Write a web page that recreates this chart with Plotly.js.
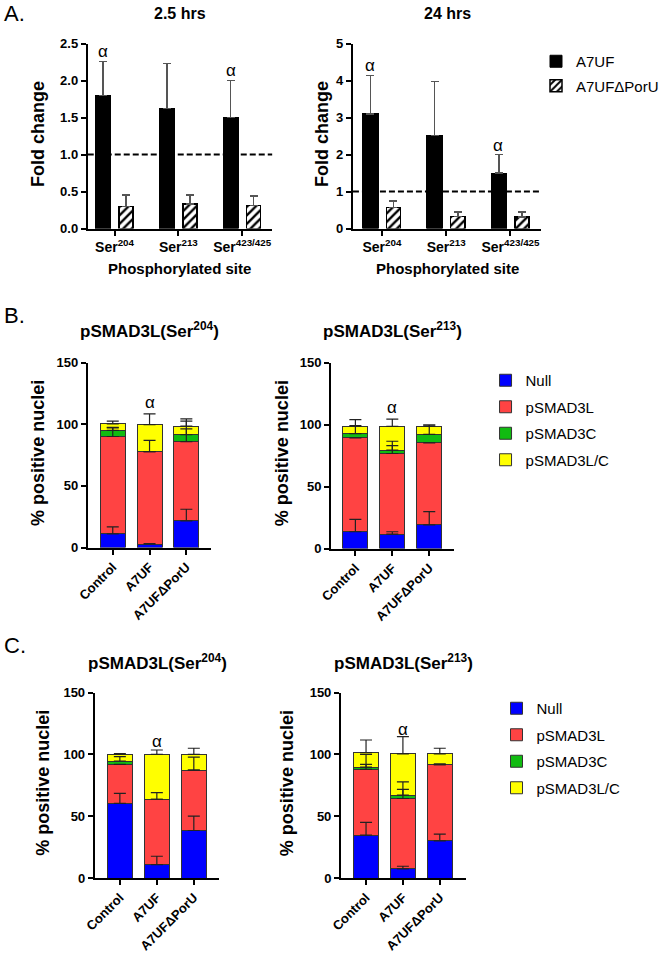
<!DOCTYPE html>
<html><head><meta charset="utf-8">
<script src="https://cdn.plot.ly/plotly-3.0.1.min.js"></script>
<style>html,body{margin:0;padding:0;background:#fff}#chart{width:664px;height:956px}</style>
</head><body><div id="chart"></div>
<script>
// ---------- Panel A data ----------
const siteCats = ['Ser204', 'Ser213', 'Ser423/425'];
const siteLabels = ['Ser<sup>204</sup>', 'Ser<sup>213</sup>', 'Ser<sup>423/425</sup>'];
const a25_A7UF = [1.80, 1.62, 1.50];
const a25_A7UF_err = [0.46, 0.61, 0.50];
const a25_dPorU = [0.30, 0.33, 0.31];
const a25_dPorU_err = [0.15, 0.12, 0.13];
const a24_A7UF = [3.10, 2.52, 1.50];
const a24_A7UF_err = [1.03, 1.45, 0.50];
const a24_dPorU = [0.57, 0.32, 0.31];
const a24_dPorU_err = [0.17, 0.13, 0.13];
const a25_alphaCats = ['Ser204', 'Ser423/425'];
const a25_alphaY = [2.39, 2.13];
const a24_alphaCats = ['Ser204', 'Ser423/425'];
const a24_alphaY = [4.41, 2.23];
const refLine = 1.0;

// ---------- Panels B / C data ----------
const groups = ['Control', 'A7UF', 'A7UFΔPorU'];
const states = ['Null', 'pSMAD3L', 'pSMAD3C', 'pSMAD3L/C'];
const stateColors = ['#0000FF', '#FF4343', '#11BB11', '#FFFF00'];

// B, Ser204
const b204_null = [11, 2.7, 21.6],  b204_null_err = [5.8, 0.5, 9.4];
const b204_L    = [79, 75.1, 64.3], b204_L_err    = [7, 9, 10.3];
const b204_C    = [4.9, 0, 5.5],    b204_C_err    = [2.5, null, 11];
const b204_LC   = [5.4, 21.9, 7],   b204_LC_err   = [2.1, 8.7, 5.9];
// B, Ser213
const b213_null = [13.5, 11.6, 19], b213_null_err = [10, 1.9, 10.7];
const b213_L    = [75.7, 65, 66.2], b213_L_err    = [null, 6.4, null];
const b213_C    = [3.5, 2.7, 6.8],  b213_C_err    = [6.5, 7.2, 7.6];
const b213_LC   = [5.9, 19.3, 6.6], b213_LC_err   = [5.4, 5.7, 1];
// C, Ser204
const c204_null = [60.3, 10.8, 38.4], c204_null_err = [8.1, 6.8, 11.6];
const c204_L    = [31.6, 52.7, 48.9], c204_L_err    = [null, 5.5, 10.5];
const c204_C    = [2.7, 0, 0],        c204_C_err    = [3.5, null, null];
const c204_LC   = [5.4, 36.5, 12.7],  c204_LC_err   = [0.5, 3.5, 4.9];
// C, Ser213
const c213_null = [34.6, 7.3, 30],    c213_null_err = [10.3, 2.2, 5.4];
const c213_L    = [53.2, 57, 61.6],   c213_L_err    = [12.2, 7.3, 0.8];
const c213_C    = [1.9, 2.7, 0],      c213_C_err    = [2.2, 10.8, null];
const c213_LC   = [11.7, 33.3, 8.7],  c213_LC_err   = [10.2, 14, 4.6];

const alphaGroup = 'A7UF';
const b204_alphaY = 117.8, b213_alphaY = 113.5, c204_alphaY = 110, c213_alphaY = 120.3;

// ---------- helpers ----------
const W = 664, H = 956;
const F = 'Liberation Sans, Arial, Helvetica, sans-serif';
const px = p => p / W;
const py = p => 1 - p / H;

function errUp(arr, color, thick, w) {
  return {type: 'data', symmetric: false, array: arr, arrayminus: arr.map(() => 0),
          color: color, thickness: thick, width: w, visible: true};
}

const traces = [];
const errTraces = [];
function panelA(xa, ya, blk, blkErr, hat, hatErr, showLeg) {
  traces.push({type: 'bar', name: 'A7UF', x: siteCats, y: blk, xaxis: xa, yaxis: ya,
    offsetgroup: 'a', width: 0.24, offset: -0.30,
    marker: {color: 'black', line: {color: 'black', width: 1}},
    error_y: errUp(blkErr, '#555', 1.5, 4),
    legend: 'legend', legendgroup: 'A7UF', showlegend: showLeg, hoverinfo: 'y'});
  traces.push({type: 'bar', name: 'A7UFΔPorU', x: siteCats, y: hat, xaxis: xa, yaxis: ya,
    offsetgroup: 'b', width: 0.22, offset: 0.07,
    marker: {color: 'white', line: {color: 'black', width: 1.5},
             pattern: {shape: '/', fgcolor: 'black', bgcolor: 'white', size: 6, solidity: 0.4}},
    error_y: errUp(hatErr, '#555', 1.5, 4),
    legend: 'legend', legendgroup: 'dPorU', showlegend: showLeg, hoverinfo: 'y'});
}
panelA('x', 'y', a25_A7UF, a25_A7UF_err, a25_dPorU, a25_dPorU_err, true);
panelA('x2', 'y2', a24_A7UF, a24_A7UF_err, a24_dPorU, a24_dPorU_err, false);

function panelStack(xa, ya, vals, errs, legName, showLeg) {
  const run = groups.map(() => 0);
  vals.forEach((v, i) => {
    traces.push({type: 'bar', name: states[i], x: groups, y: v, xaxis: xa, yaxis: ya,
      marker: {color: stateColors[i], line: {color: '#333', width: 1}},
      legend: legName, legendgroup: legName + states[i], showlegend: showLeg, hoverinfo: 'y'});
    // error bars drawn on top of the whole stack, at each segment's top
    v.forEach((val, j) => { run[j] += val; });
    errTraces.push({type: 'scatter', mode: 'markers', x: groups, y: run.slice(), xaxis: xa, yaxis: ya,
      marker: {size: 1, opacity: 0}, error_y: errUp(errs[i], '#222', 1.2, 6),
      showlegend: false, hoverinfo: 'skip'});
  });
}
panelStack('x3', 'y3', [b204_null, b204_L, b204_C, b204_LC], [b204_null_err, b204_L_err, b204_C_err, b204_LC_err], 'legend2', true);
panelStack('x4', 'y4', [b213_null, b213_L, b213_C, b213_LC], [b213_null_err, b213_L_err, b213_C_err, b213_LC_err], 'legend2', false);
panelStack('x5', 'y5', [c204_null, c204_L, c204_C, c204_LC], [c204_null_err, c204_L_err, c204_C_err, c204_LC_err], 'legend3', true);
panelStack('x6', 'y6', [c213_null, c213_L, c213_C, c213_LC], [c213_null_err, c213_L_err, c213_C_err, c213_LC_err], 'legend3', false);
errTraces.forEach(t => traces.push(t));

// ---------- axes ----------
const axBase = {showline: true, linecolor: 'black', linewidth: 2, ticks: 'outside', ticklen: 5,
  tickwidth: 2, tickcolor: 'black', showgrid: false, zeroline: false, fixedrange: true,
  tickfont: {family: F, size: 13, color: 'black', weight: 'bold'}};

function xAx(d0, d1, range, anchor, extra) {
  return Object.assign({}, axBase, {type: 'category', domain: [px(d0), px(d1)], range: range, anchor: anchor}, extra || {});
}
function yAx(top, bot, range, anchor, extra) {
  return Object.assign({}, axBase, {domain: [py(bot), py(top)], range: range, anchor: anchor}, extra || {});
}
const siteTicks = {tickmode: 'array', tickvals: siteCats, ticktext: siteLabels, tickangle: 0,
  tickfont: {family: F, size: 14, color: 'black', weight: 'bold'}};
const grpTicks = {tickangle: -45, tickfont: {family: F, size: 13, color: 'black', weight: 'bold'}};

const layout = {
  width: W, height: H, margin: {l: 0, r: 0, t: 0, b: 0},
  paper_bgcolor: 'white', plot_bgcolor: 'white',
  barmode: 'stack', bargap: 0.32,
  font: {family: F, color: 'black'},
  xaxis:  xAx(88, 273, [-0.42, 2.47], 'y', siteTicks),
  yaxis:  yAx(43.5, 228.5, [0, 2.5], 'x', {dtick: 0.5, tickformat: '.1f'}),
  xaxis2: xAx(354, 543, [-0.45, 2.48], 'y2', siteTicks),
  yaxis2: yAx(43.5, 228.5, [0, 5], 'x2', {dtick: 1}),
  xaxis3: xAx(88, 212, [-0.68, 2.68], 'y3', grpTicks),
  yaxis3: yAx(362.5, 547.5, [0, 150], 'x3', {dtick: 50}),
  xaxis4: xAx(332, 455, [-0.66, 2.66], 'y4', grpTicks),
  yaxis4: yAx(362.5, 548.5, [0, 150], 'x4', {dtick: 50}),
  xaxis5: xAx(95, 220, [-0.68, 2.69], 'y5', grpTicks),
  yaxis5: yAx(692.5, 878, [0, 150], 'x5', {dtick: 50}),
  xaxis6: xAx(342, 467, [-0.68, 2.70], 'y6', grpTicks),
  yaxis6: yAx(692.5, 878, [0, 150], 'x6', {dtick: 50}),
  legend:  {x: px(538), y: py(45), xanchor: 'left', yanchor: 'top', traceorder: 'grouped', tracegroupgap: 2,
            font: {family: F, size: 15, color: 'black'}, bgcolor: 'rgba(0,0,0,0)'},
  legend2: {x: px(487), y: py(364), xanchor: 'left', yanchor: 'top', traceorder: 'grouped', tracegroupgap: 4,
            font: {family: F, size: 15, color: 'black'}, bgcolor: 'rgba(0,0,0,0)'},
  legend3: {x: px(498), y: py(692), xanchor: 'left', yanchor: 'top', traceorder: 'grouped', tracegroupgap: 4,
            font: {family: F, size: 15, color: 'black'}, bgcolor: 'rgba(0,0,0,0)'},
  shapes: [
    {type: 'line', xref: 'x domain', yref: 'y', x0: 0, x1: 1, y0: refLine, y1: refLine,
     line: {color: 'black', width: 2, dash: '6px,3px'}},
    {type: 'line', xref: 'x2 domain', yref: 'y2', x0: 0, x1: 1, y0: refLine, y1: refLine,
     line: {color: 'black', width: 2, dash: '6px,3px'}}
  ],
  annotations: []
};

const ann = layout.annotations;
function txt(o) { ann.push(Object.assign({showarrow: false}, o)); }
// panel labels
[['A.', 14], ['B.', 315], ['C.', 645]].forEach(([t, y]) =>
  txt({text: t, xref: 'paper', yref: 'paper', x: px(2), y: py(y), xanchor: 'left', yanchor: 'middle',
       font: {family: F, size: 22, color: 'black'}}));
// panel titles
[['x', '2.5 hrs', 14, 16], ['x2', '24 hrs', 14, 16],
 ['x3', 'pSMAD3L(Ser<sup>204</sup>)', 330, 17], ['x4', 'pSMAD3L(Ser<sup>213</sup>)', 330, 17],
 ['x5', 'pSMAD3L(Ser<sup>204</sup>)', 662, 17], ['x6', 'pSMAD3L(Ser<sup>213</sup>)', 662, 17]
].forEach(([xa, t, y, s]) =>
  txt({text: t, xref: xa + ' domain', yref: 'paper', x: 0.5, y: py(y), xanchor: 'center', yanchor: 'middle',
       font: {family: F, size: s, color: 'black', weight: 'bold'}}));
// y titles
[['Fold change', 38, 134], ['Fold change', 323, 134],
 ['% positive nuclei', 38, 453], ['% positive nuclei', 283, 453],
 ['% positive nuclei', 43, 783], ['% positive nuclei', 288, 783]
].forEach(([t, x, y]) =>
  txt({text: t, xref: 'paper', yref: 'paper', x: px(x), y: py(y), xanchor: 'center', yanchor: 'middle',
       textangle: -90, font: {family: F, size: 18, color: 'black', weight: 'bold'}}));
// x titles
[['x', 268], ['x2', 268]].forEach(([xa, y]) =>
  txt({text: 'Phosphorylated site', xref: xa + ' domain', yref: 'paper', x: 0.5, y: py(y),
       xanchor: 'center', yanchor: 'middle', font: {family: F, size: 15, color: 'black', weight: 'bold'}}));
// alpha marks
const aFont = {family: F, size: 17, color: 'black'};
a25_alphaCats.forEach((c, i) => txt({text: 'α', xref: 'x', yref: 'y', x: c, y: a25_alphaY[i], xshift: -11.5, font: aFont}));
a24_alphaCats.forEach((c, i) => txt({text: 'α', xref: 'x2', yref: 'y2', x: c, y: a24_alphaY[i], xshift: -12, font: aFont}));
[['x3', 'y3', b204_alphaY], ['x4', 'y4', b213_alphaY], ['x5', 'y5', c204_alphaY], ['x6', 'y6', c213_alphaY]]
  .forEach(([xa, ya, y]) => txt({text: 'α', xref: xa, yref: ya, x: alphaGroup, y: y, font: aFont}));

Plotly.newPlot('chart', traces, layout, {displayModeBar: false, staticPlot: true});
</script>
</body></html>
